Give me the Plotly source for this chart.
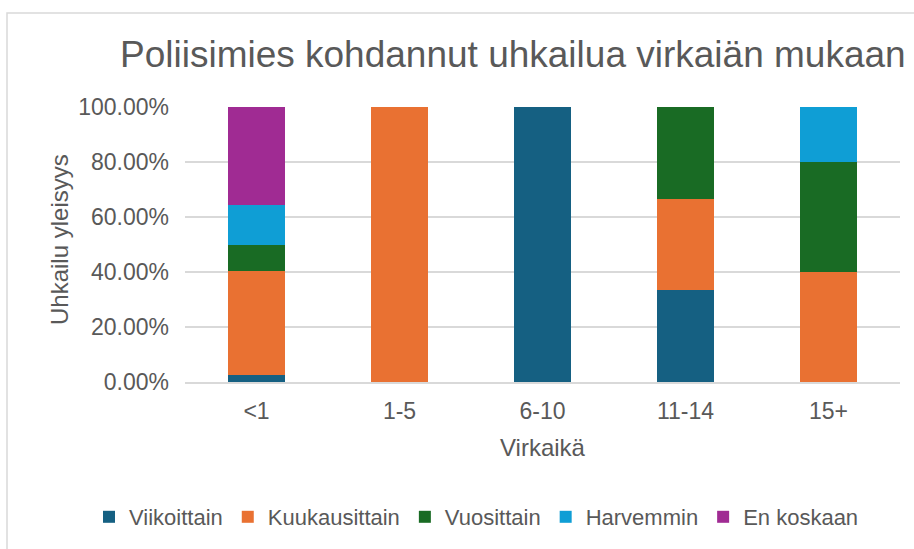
import plotly.graph_objects as go

categories = ["<1", "1-5", "6-10", "11-14", "15+"]
series_names = ["Viikoittain", "Kuukausittain", "Vuosittain", "Harvemmin", "En koskaan"]
viikoittain = [0.0238, 0.0, 1.0, 0.3333, 0.0]
kuukausittain = [0.381, 1.0, 0.0, 0.3333, 0.4]
vuosittain = [0.0952, 0.0, 0.0, 0.3334, 0.4]
harvemmin = [0.1429, 0.0, 0.0, 0.0, 0.2]
en_koskaan = [0.3571, 0.0, 0.0, 0.0, 0.0]
colors = ["#156082", "#E97132", "#196B24", "#0F9ED5", "#A02B93"]
tick_vals = [0, 0.2, 0.4, 0.6, 0.8, 1.0]
tick_text = ["0.00%", "20.00%", "40.00%", "60.00%", "80.00%", "100.00%"]

values = [viikoittain, kuukausittain, vuosittain, harvemmin, en_koskaan]
FONT = "Liberation Sans, Arial, sans-serif"
GRAY = "#595959"

fig = go.Figure()
for name, vals, col in zip(series_names, values, colors):
    fig.add_trace(go.Bar(x=categories, y=vals, name=name, marker=dict(color=col, line=dict(width=0))))

W, H = 914, 549
L, R, T, B = 185, 14, 107, 167
pw, ph = W - L - R, H - T - B

def px(x):
    return (x - L) / pw

def py(y):
    return (H - B - y) / ph

fig.update_layout(
    width=W, height=H,
    barmode="stack", bargap=0.608,
    margin=dict(l=L, r=R, t=T, b=B, autoexpand=False),
    paper_bgcolor="white", plot_bgcolor="white",
    font=dict(family=FONT, color=GRAY, size=22),
    showlegend=True,
    legend=dict(orientation="h", x=px(89), xanchor="left", y=py(517), yanchor="middle",
                font=dict(size=22, color=GRAY), traceorder="normal",
                itemsizing="constant", tracegroupgap=0),
    annotations=[
        dict(text="Poliisimies kohdannut uhkailua virkaiän mukaan", xref="paper", yref="paper",
             x=px(513), y=py(55), xanchor="center", yanchor="middle", showarrow=False,
             font=dict(size=37, color=GRAY, family=FONT)),
        dict(text="Uhkailu yleisyys", xref="paper", yref="paper", textangle=-90,
             x=px(59), y=py(240), xanchor="center", yanchor="middle", showarrow=False,
             font=dict(size=24, color=GRAY, family=FONT)),
    ],
    shapes=[
        dict(type="rect", xref="paper", yref="paper", x0=px(7), x1=px(960), y0=py(600), y1=py(13),
             line=dict(color="#d9d9d9", width=1.5), fillcolor="rgba(0,0,0,0)", layer="below"),
    ],
)
fig.update_xaxes(showgrid=False, showline=True, linecolor="#d9d9d9", linewidth=1.5,
                 ticks="", tickfont=dict(size=23, color=GRAY), ticklabelstandoff=8,
                 title=dict(text="Virkaikä", font=dict(size=24, color=GRAY), standoff=16))
fig.update_yaxes(range=[0, 1], tickvals=tick_vals, ticktext=tick_text, showgrid=True,
                 gridcolor="#d9d9d9", gridwidth=1.5, zeroline=False, ticks="",
                 tickfont=dict(size=23, color=GRAY), ticklabelstandoff=15)

fig.write_html("out.html", config={"displayModeBar": False},
               post_script="document.body.style.margin='0px';document.documentElement.style.overflow='hidden';")
